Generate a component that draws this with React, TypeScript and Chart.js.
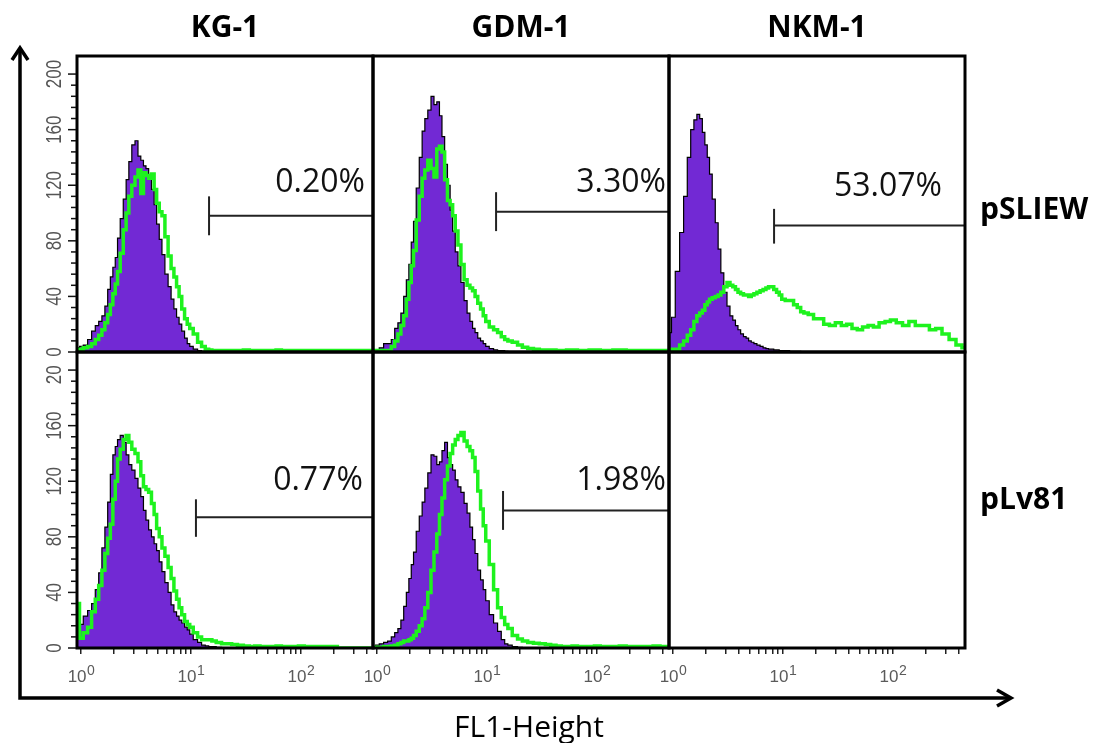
import React, { useEffect, useRef } from 'react';
import { Chart, registerables } from 'chart.js';

Chart.register(...registerables);

// ---------------- data ----------------
// fluorescence channels (FL1, log scale)
const channels = [
  0.94, 1.0, 1.1, 1.2, 1.3, 1.4, 1.5, 1.6, 1.7, 1.8, 1.9,
  2.0, 2.1, 2.2, 2.35, 2.5, 2.65, 2.8, 3.0, 3.2, 3.4, 3.6, 3.8,
  4.0, 4.25, 4.5, 4.75, 5.0, 5.3, 5.6, 6.0, 6.4, 6.8, 7.2, 7.6, 8.0, 8.5, 9.0, 9.5,
  10, 11, 12, 13, 14, 15, 16, 18, 20, 22, 25, 28, 32, 36, 40, 45,
  50, 56, 63, 70, 80, 90, 100, 115, 130, 150, 170, 200, 230, 260, 300, 350, 400, 450,
];

// KG-1 / pSLIEW
const kg1SliewControl = [
  3, 4, 5, 9, 15, 19, 22, 26, 33, 45, 54,
  61, 68, 82, 96, 110, 124, 137, 149, 152, 141, 138, 134,
  132, 127, 117, 106, 92, 81, 70, 56, 47, 38, 31, 25, 20, 15, 10, 6,
  4, 2, 1, 0.5, 0.5, 0, 0, 0, 0, 0, 0, 0, 0, 0, 0, 0,
  0, 0, 0, 0, 0, 0, 0, 0, 0, 0, 0, 0, 0, 0, 0, 0, 0, 0,
];
const kg1SliewGfp = [
  2, 2, 3, 4, 6, 9, 12, 16, 21, 27, 34,
  42, 49, 58, 71, 88, 100, 112, 120, 126, 131, 114, 129,
  127, 125, 128, 117, 107, 101, 98, 83, 69, 60, 54, 47, 40, 31, 24, 20,
  17, 13, 7, 4, 2, 1.5, 1, 1, 1, 1, 1, 1, 1.5, 1, 1, 1,
  1, 1, 1.5, 1, 1, 1, 1, 1, 1, 1, 1, 1, 1, 1, 1, 1, 1, 1,
];

// GDM-1 / pSLIEW
const gdm1SliewControl = [
  0, 1, 3, 6, 6, 9, 17, 21, 28, 40, 52,
  63, 79, 94, 118, 140, 159, 168, 174, 184, 178, 180, 170,
  155, 135, 120, 102, 87, 72, 62, 50, 37, 28, 22, 17, 14, 10, 8, 6,
  4, 2.5, 1.5, 1, 1, 0.5, 0, 0, 0, 0, 0, 0, 0, 0, 0, 0,
  0, 0, 0, 0, 0, 0, 0, 0, 0, 0, 0, 0, 0, 0, 0, 0, 0, 0,
];
const gdm1SliewGfp = [
  1, 1, 1, 1, 1, 4, 8, 13, 19, 26, 38,
  50, 62, 73, 95, 112, 125, 131, 138, 132, 126, 146, 148,
  144, 124, 109, 106, 98, 87, 77, 63, 52, 48, 46, 44, 40, 35, 31, 26,
  22, 18, 16, 14, 11, 9, 8, 7, 5, 3.5, 2.5, 2, 1.5, 1.5, 1.5, 1,
  1, 1.5, 1.5, 1, 1, 1.5, 1.5, 1, 1, 1.5, 1.5, 1, 1, 1, 1, 1, 1, 1,
];

// NKM-1 / pSLIEW
const nkm1SliewControl = [
  14, 25, 58, 86, 112, 140, 160, 167, 171, 168, 158,
  149, 140, 128, 110, 93, 74, 57, 43, 33, 26, 23, 19,
  16, 13, 11, 10, 8, 7, 6, 5, 4, 3, 2.5, 2, 2, 1.5, 1.5, 1,
  1, 1, 0.5, 0.5, 0.5, 0, 0, 0, 0, 0, 0, 0, 0, 0, 0, 0,
  0, 0, 0, 0, 0, 0, 0, 0, 0, 0, 0, 0, 0, 0, 0, 0, 0, 0,
];
const nkm1SliewGfp = [
  2, 2, 2, 5, 8, 12, 16, 22, 26, 28, 30,
  34, 36, 38, 39, 40, 41, 43, 47, 50, 48, 47, 45,
  43, 42, 41, 41, 40, 41, 42, 43, 44, 45, 46, 47, 47, 45, 43, 41,
  38, 37, 37, 34, 32, 29, 28, 27, 24, 24, 20, 19, 21, 19, 20, 17,
  16, 18, 19, 18, 21, 22, 23, 21, 19, 22, 19, 19, 16, 17, 13, 9, 5, 3,
];

// KG-1 / pLv81
const kg1Lv81Control = [
  20, 17, 23, 27, 32, 42, 54, 72, 87, 105, 125,
  139, 145, 150, 153, 148, 139, 132, 128, 122, 115, 109, 99,
  92, 85, 80, 75, 70, 62, 55, 47, 40, 31, 26, 23, 20, 18, 15, 13,
  10, 6, 4, 2, 1.5, 1, 1, 0.5, 0, 0, 0, 0, 0, 0, 0, 0,
  0, 0, 0, 0, 0, 0, 0, 0, 0, 0, 0, 0, 0, 0, 0, 0, 0, 0,
];
const kg1Lv81Gfp = [
  32, 7, 11, 15, 26, 35, 45, 56, 68, 79, 89,
  107, 120, 136, 143, 150, 153, 148, 143, 140, 134, 124, 116,
  114, 112, 104, 96, 86, 80, 72, 66, 58, 50, 41, 35, 29, 24, 19, 17,
  15, 11, 8, 6, 6, 6, 5, 4, 3, 3, 2.5, 2, 1.5, 1, 1.5, 1,
  1, 1, 1.5, 1, 1, 1, 1.5, 1, 1, 1, 1, 1, 0, 0, 0, 0, 0, 0,
];

// GDM-1 / pLv81
const gdm1Lv81Control = [
  1, 2, 3, 4, 5, 8, 11, 14, 20, 30, 40,
  50, 60, 69, 84, 95, 105, 115, 126, 139, 138, 132, 134,
  142, 148, 137, 132, 128, 121, 116, 112, 104, 97, 87, 78, 68, 56, 49, 42,
  34, 24, 18, 12, 6, 3, 2, 1, 0.5, 0, 0, 0, 0, 0, 0, 0,
  0, 0, 0, 0, 0, 0, 0, 0, 0, 0, 0, 0, 0, 0, 0, 0, 0, 0,
];
const gdm1Lv81Gfp = [
  0.5, 0.5, 0.5, 1, 1, 1.5, 2, 3, 4, 5, 5,
  6, 7, 9, 12, 16, 21, 29, 40, 56, 69, 82, 96,
  108, 121, 131, 140, 146, 150, 153, 155, 149, 145, 142, 137, 127, 113, 100, 88,
  77, 60, 42, 29, 22, 17, 14, 9, 6.5, 5, 4, 3.5, 3, 2.5, 2, 1.5,
  1, 1, 1.5, 1, 1, 1, 1.5, 1, 1, 1, 1.5, 1, 1, 1, 1, 1.5, 1, 1,
];

// gates (threshold marker) and percentages
const gateStart = [14.6, 12.1, 8.3, 11.1, 14.0];
const gateLevel = [98, 101, 91, 94, 99];
const gateTickLow = [84, 87, 78, 80, 85];
const gateTickHigh = [112, 115, 103, 107, 113];
const gatePercent = ['0.20%', '3.30%', '53.07%', '0.77%', '1.98%'];
const percentRightX = [382, 424, 279, 366, 424];
const percentY = [122, 122, 119, 120, 120];

// grid layout of panels
const panelRow = [0, 0, 0, 1, 1];
const panelCol = [0, 1, 2, 0, 1];
const controlSeries = [kg1SliewControl, gdm1SliewControl, nkm1SliewControl, kg1Lv81Control, gdm1Lv81Control];
const gfpSeries = [kg1SliewGfp, gdm1SliewGfp, nkm1SliewGfp, kg1Lv81Gfp, gdm1Lv81Gfp];

// text
const columnTitles = ['KG-1', 'GDM-1', 'NKM-1'];
const rowTitles = ['pSLIEW', 'pLv81'];
const xAxisTitle = 'FL1-Height';

// ticks
const xTickValues = [1, 2, 3, 4, 5, 6, 7, 8, 9, 10, 20, 30, 40, 50, 60, 70, 80, 90, 100, 200, 300, 400];
const xDecades = [1, 10, 100];
const xDecadeBase = '10';
const xDecadeExponents = ['0', '1', '2'];
const yTickValues = [0, 40, 80, 120, 160, 200];
const yTickLabels = ['0', '40', '80', '120', '160', '200'];
const yMinorStep = 8;
const xMin = 0.92;
const xMax = 452;
const yMax = 213;

const PURPLE = '#7229d4';
const GREEN = '#1ef21e';

const decorPlugin = {
  id: 'decor',
  afterDraw(chart: any) {
    const ctx = chart.ctx as CanvasRenderingContext2D;
    const ca = chart.chartArea;
    const xs = [chart.scales.x0, chart.scales.x1, chart.scales.x2];
    const ys = [chart.scales.y0, chart.scales.y1];
    ctx.save();

    // percentage labels
    ctx.fillStyle = '#111';
    ctx.font = '32px "Open Sans"';
    ctx.textAlign = 'right';
    ctx.textBaseline = 'middle';
    for (let p = 0; p < gatePercent.length; p++) {
      const xsc = xs[panelCol[p]];
      const ysc = ys[panelRow[p]];
      ctx.fillText(gatePercent[p], xsc.getPixelForValue(percentRightX[p]), ysc.getPixelForValue(percentY[p]));
    }

    // panel borders
    ctx.strokeStyle = '#000';
    ctx.lineWidth = 3;
    for (const xsc of xs) {
      for (const ysc of ys) {
        ctx.strokeRect(xsc.left, ysc.top, xsc.right - xsc.left, ysc.bottom - ysc.top);
      }
    }

    // x axis decade labels (10 with superscript exponent)
    ctx.fillStyle = '#5a5a5a';
    ctx.textBaseline = 'alphabetic';
    ctx.textAlign = 'left';
    for (const xsc of xs) {
      xDecades.forEach((v, i) => {
        const px = xsc.getPixelForValue(v);
        ctx.font = '17px "Liberation Sans"';
        const wBase = ctx.measureText(xDecadeBase).width;
        ctx.font = '14px "Liberation Sans"';
        const wExp = ctx.measureText(xDecadeExponents[i]).width;
        const start = px - (wBase + wExp) / 2;
        const base = ca.bottom + 34;
        ctx.font = '17px "Liberation Sans"';
        ctx.fillText(xDecadeBase, start, base);
        ctx.font = '14px "Liberation Sans"';
        ctx.fillText(xDecadeExponents[i], start + wBase + 0.5, base - 7);
      });
    }

    // y axis ticks (left column)
    ctx.lineWidth = 1.5;
    ctx.strokeStyle = '#111';
    for (const ysc of ys) {
      for (let v = 0; v <= yTickValues[yTickValues.length - 1]; v += yMinorStep) {
        const py = ysc.getPixelForValue(v);
        const len = v % 40 === 0 ? 9 : 6;
        ctx.beginPath();
        ctx.moveTo(ca.left - len, py);
        ctx.lineTo(ca.left - 1, py);
        ctx.stroke();
      }
    }
    // y axis labels (rotated)
    ctx.fillStyle = '#555';
    ctx.font = '17px "Liberation Sans"';
    ctx.textAlign = 'center';
    ctx.textBaseline = 'middle';
    ys.forEach((ysc: any, r: number) => {
      ctx.save();
      if (r > 0) {
        ctx.beginPath();
        ctx.rect(0, ysc.top + 14, ca.left, ysc.bottom - ysc.top);
        ctx.clip();
      }
      yTickValues.forEach((v, i) => {
        ctx.save();
        ctx.translate(ca.left - 22, ysc.getPixelForValue(v));
        ctx.rotate(-Math.PI / 2);
        ctx.scale(1, 1.25);
        ctx.fillText(yTickLabels[i], 0, 0);
        ctx.restore();
      });
      ctx.restore();
    });

    // column titles
    ctx.fillStyle = '#000';
    ctx.font = 'bold 30px "Open Sans"';
    ctx.textAlign = 'center';
    ctx.textBaseline = 'middle';
    xs.forEach((xsc: any, c: number) => {
      ctx.fillText(columnTitles[c], (xsc.left + xsc.right) / 2, ca.top - 28);
    });
    // row titles
    ctx.textAlign = 'left';
    ys.forEach((ysc: any, r: number) => {
      ctx.fillText(rowTitles[r], ca.right + 15, (ysc.top + ysc.bottom) / 2 + (r === 0 ? 6 : 0));
    });

    // x axis title
    ctx.font = '30px "Open Sans"';
    ctx.textAlign = 'center';
    ctx.fillText(xAxisTitle, (ca.left + ca.right) / 2 + 8, ca.bottom + 80);

    // big axis arrows
    const ax = ca.left - 57;
    const ay = ca.bottom + 50;
    const topTip = ca.top - 8;
    const rightTip = ca.right + 46;
    ctx.strokeStyle = '#000';
    ctx.lineWidth = 3.5;
    ctx.lineJoin = 'miter';
    ctx.beginPath();
    ctx.moveTo(ax, topTip);
    ctx.lineTo(ax, ay);
    ctx.lineTo(rightTip, ay);
    ctx.stroke();
    ctx.beginPath();
    ctx.moveTo(ax - 8, topTip + 12);
    ctx.lineTo(ax, topTip);
    ctx.lineTo(ax + 8, topTip + 12);
    ctx.stroke();
    ctx.beginPath();
    ctx.moveTo(rightTip - 14, ay - 8);
    ctx.lineTo(rightTip, ay);
    ctx.lineTo(rightTip - 14, ay + 8);
    ctx.stroke();

    ctx.restore();
  },
};

function xScale(c: number) {
  return {
    type: 'logarithmic',
    position: 'bottom',
    stack: 'cols',
    stackWeight: 1,
    weight: c,
    min: xMin,
    max: xMax,
    afterBuildTicks: (s: any) => {
      s.ticks = xTickValues.map((v) => ({ value: v }));
    },
    afterFit: (s: any) => {
      s.height = 40;
    },
    border: { display: false },
    grid: {
      display: true,
      drawOnChartArea: false,
      drawTicks: true,
      tickLength: 6,
      color: '#222',
      lineWidth: 1.5,
    },
    ticks: {
      display: false,
      autoSkip: false,
      maxRotation: 0,
      minRotation: 0,
      major: { enabled: false },
    },
  };
}

function yScale(r: number) {
  return {
    type: 'linear',
    position: 'left',
    stack: 'rows',
    stackWeight: 1,
    weight: r === 0 ? 2 : 1,
    min: 0,
    max: yMax,
    afterFit: (s: any) => {
      s.width = 0;
    },
    border: { display: false },
    grid: { display: false },
    ticks: { display: false },
  };
}

export default function App() {
  const ref = useRef<HTMLCanvasElement | null>(null);

  useEffect(() => {
    if (!ref.current) return;
    const datasets: any[] = [];
    for (let p = 0; p < controlSeries.length; p++) {
      const xAxisID = 'x' + panelCol[p];
      const yAxisID = 'y' + panelRow[p];
      datasets.push({
        label: 'gate ' + gatePercent[p],
        data: [
          { x: gateStart[p], y: gateLevel[p] },
          { x: xMax, y: gateLevel[p] },
        ],
        borderColor: '#222',
        borderWidth: 2,
        pointRadius: 0,
        fill: false,
        order: 0,
        xAxisID,
        yAxisID,
      });
      datasets.push({
        label: 'gate tick ' + gatePercent[p],
        data: [
          { x: gateStart[p], y: gateTickLow[p] },
          { x: gateStart[p], y: gateTickHigh[p] },
        ],
        borderColor: '#222',
        borderWidth: 2,
        pointRadius: 0,
        fill: false,
        order: 0,
        xAxisID,
        yAxisID,
      });
      datasets.push({
        label: 'GFP',
        data: channels.map((x, i) => ({ x, y: gfpSeries[p][i] })),
        borderColor: GREEN,
        borderWidth: 3.5,
        pointRadius: 0,
        stepped: 'middle',
        fill: false,
        order: 1,
        xAxisID,
        yAxisID,
      });
      datasets.push({
        label: 'control',
        data: channels.map((x, i) => ({ x, y: controlSeries[p][i] })),
        borderColor: '#000',
        borderWidth: 1.2,
        backgroundColor: PURPLE,
        pointRadius: 0,
        stepped: 'middle',
        fill: 'origin',
        order: 2,
        xAxisID,
        yAxisID,
      });
    }

    const chart = new Chart(ref.current, {
      type: 'line',
      data: { datasets },
      options: {
        responsive: false,
        animation: false,
        events: [],
        layout: { padding: { left: 77, right: 147, top: 56, bottom: 55 } },
        plugins: {
          legend: { display: false },
          tooltip: { enabled: false },
          title: { display: false },
        },
        scales: {
          x0: xScale(0),
          x1: xScale(1),
          x2: xScale(2),
          y0: yScale(0),
          y1: yScale(1),
        } as any,
      },
      plugins: [decorPlugin],
    } as any);

    return () => chart.destroy();
  }, []);

  return (
    <div style={{ position: 'absolute', left: 0, top: 0, width: 1112, height: 743, background: '#fff', overflow: 'hidden' }}>
      <canvas ref={ref} width={1112} height={743} style={{ display: 'block', width: 1112, height: 743 }} />
    </div>
  );
}
